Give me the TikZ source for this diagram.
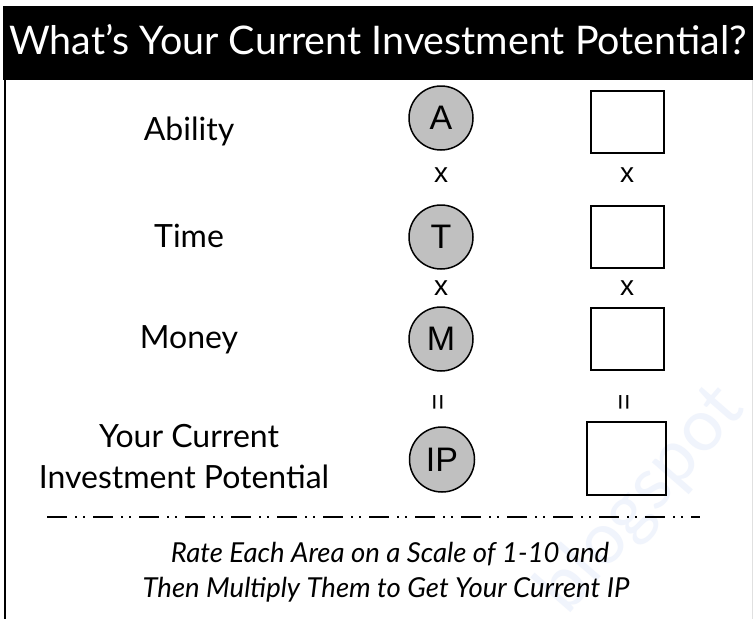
\documentclass[tikz,border=0pt]{standalone}
\usepackage{fontspec}
\setmainfont{Lato}
\newfontfamily\arialf{Liberation Sans}
\definecolor{circgray}{RGB}{192,192,192}
\definecolor{wmark}{RGB}{240,244,252}
\begin{document}
\begin{tikzpicture}[x=1pt,y=-1pt,
  lbl/.style={font=\fontsize{32}{36}\selectfont, inner sep=0pt, anchor=base},
  circ/.style={circle, draw=black, line width=1.5pt, fill=circgray, minimum size=64pt, inner sep=0pt, font=\arialf\fontsize{34}{34}\selectfont},
  valbox/.style={draw=black, line width=2pt, minimum width=73pt, minimum height=62pt, inner sep=0pt},
  op/.style={font=\arialf\fontsize{28}{28}\selectfont, inner sep=0pt},
  note/.style={font=\itshape\fontsize{27.5}{32}\selectfont, inner sep=0pt, anchor=base}]
\useasboundingbox (0,0) rectangle (753,619);
\fill[white] (0,0) rectangle (753,619);
% watermark
\node[rotate=49, text=wmark, font=\fontsize{72}{72}\selectfont, inner sep=0pt] (wm) at (642,500) {blogspot};
% header
\node[fill=black, minimum width=750pt, minimum height=74pt, inner sep=0pt, anchor=north west] (header) at (3,6) {};
\node[text=white, font=\fontsize{33}{40}\selectfont, inner sep=0pt] (title) at (378,40) {\resizebox{738pt}{!}{What’s Your Current Investment Potential?}};
% borders
\draw[line width=2pt] (5,80) -- (5,619);
\draw[black!12, line width=1pt] (752,80) -- (752,619);
% labels
\node[lbl] (ability) at (189,140) {Ability};
\node[lbl] (time) at (189,247) {Time};
\node[lbl] (money) at (189,348) {Money};
\node[lbl] (yc) at (189,447) {Your Current};
\node[lbl] (ip) at (184,488) {Investment Potential};
% circles
\node[circ] (cA) at (441,118) {A};
\node[circ] (cT) at (441,237) {T};
\node[circ] (cM) at (441,339) {M};
\node[circ, minimum size=65pt] (cIP) at (442,459.5) {IP};
% boxes
\node[valbox] (bA) at (627,122) {};
\node[valbox] (bT) at (627,237) {};
\node[valbox] (bM) at (627,339) {};
\node[valbox, minimum width=79pt, minimum height=73pt] (bIP) at (626.5,458.5) {};
% operators
\node[op] (x1) at (441,175) {x};
\node[op] (x2) at (627,175) {x};
\node[op] (x3) at (441,288) {x};
\node[op] (x4) at (627,288) {x};
\node[op, rotate=90] (e1) at (441,402) {=};
\node[op, rotate=90] (e2) at (627,402) {=};
% rule
\draw[line width=1.5pt, dash pattern=on 20pt off 8pt on 2pt off 6pt on 2pt off 8pt] (47,517) -- (700,517);
% note
\node[note] (n1) at (390,562) {Rate Each Area on a Scale of 1-10 and};
\node[note] (n2) at (386,597) {Then Multiply Them to Get Your Current IP};
\end{tikzpicture}
\end{document}
